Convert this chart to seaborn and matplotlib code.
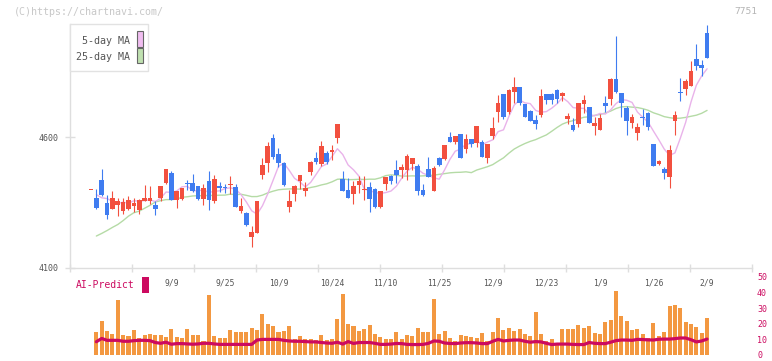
import numpy as np
import pandas as pd
import matplotlib
matplotlib.use("Agg")
import matplotlib.pyplot as plt
from matplotlib.patches import Rectangle
import seaborn as sns

# ---------------- data ----------------
opens = [4397, 4367, 4436, 4348, 4325, 4340, 4318, 4325, 4337, 4321,
         4356, 4356, 4340, 4367, 4424, 4463, 4360, 4363, 4424, 4424,
         4413, 4363, 4432, 4356, 4413, 4409, 4417, 4409, 4318, 4310,
         4218, 4234, 4455, 4501, 4596, 4535, 4501, 4333, 4382, 4432,
         4394, 4466, 4520, 4497, 4539, 4543, 4596, 4440, 4398, 4382,
         4417, 4398, 4409, 4402, 4333, 4421, 4451, 4474, 4474, 4474,
         4497, 4489, 4398, 4478, 4394, 4520, 4516, 4600, 4581, 4612,
         4554, 4592, 4577, 4581, 4520, 4604, 4695, 4764, 4695, 4772,
         4791, 4726, 4699, 4665, 4684, 4764, 4764, 4779, 4757, 4669,
         4646, 4650, 4726, 4715, 4642, 4627, 4730, 4745, 4821, 4768,
         4711, 4653, 4615, 4673, 4692, 4573, 4497, 4478, 4447, 4661,
         4772, 4783, 4795, 4898, 4875, 4997]
highs = [4397, 4402, 4478, 4379, 4394, 4367, 4367, 4375, 4367, 4363,
         4417, 4413, 4356, 4413, 4478, 4470, 4394, 4405, 4436, 4459,
         4413, 4421, 4470, 4455, 4428, 4421, 4451, 4421, 4367, 4314,
         4260, 4356, 4520, 4581, 4612, 4558, 4505, 4398, 4417, 4455,
         4428, 4508, 4543, 4585, 4547, 4570, 4650, 4470, 4444, 4432,
         4451, 4451, 4428, 4405, 4394, 4447, 4455, 4512, 4497, 4535,
         4520, 4497, 4421, 4524, 4489, 4524, 4570, 4619, 4604, 4612,
         4612, 4592, 4642, 4589, 4573, 4676, 4760, 4764, 4783, 4829,
         4791, 4726, 4703, 4684, 4783, 4764, 4768, 4783, 4772, 4692,
         4673, 4730, 4760, 4715, 4676, 4688, 4757, 4825, 4986, 4768,
         4718, 4688, 4653, 4707, 4695, 4573, 4512, 4486, 4568, 4699,
         4825, 4821, 4890, 4955, 4894, 5028]
lows = [4397, 4325, 4375, 4287, 4325, 4299, 4306, 4321, 4314, 4306,
        4356, 4344, 4302, 4356, 4421, 4360, 4329, 4360, 4398, 4390,
        4360, 4340, 4321, 4348, 4390, 4386, 4382, 4333, 4310, 4260,
        4180, 4234, 4440, 4466, 4516, 4486, 4413, 4314, 4356, 4402,
        4375, 4455, 4497, 4489, 4497, 4512, 4577, 4394, 4367, 4344,
        4386, 4360, 4314, 4329, 4329, 4398, 4421, 4424, 4444, 4436,
        4474, 4379, 4375, 4447, 4394, 4489, 4512, 4581, 4573, 4520,
        4539, 4562, 4562, 4524, 4501, 4592, 4657, 4669, 4688, 4730,
        4722, 4676, 4661, 4631, 4676, 4726, 4726, 4730, 4737, 4650,
        4623, 4638, 4692, 4653, 4608, 4627, 4695, 4722, 4768, 4676,
        4608, 4634, 4589, 4646, 4627, 4489, 4493, 4440, 4405, 4608,
        4737, 4760, 4795, 4856, 4833, 4902]
closes = [4397, 4329, 4379, 4302, 4367, 4356, 4352, 4360, 4348, 4360,
          4367, 4367, 4325, 4413, 4478, 4360, 4394, 4405, 4421, 4394,
          4363, 4405, 4360, 4440, 4405, 4405, 4421, 4333, 4337, 4264,
          4237, 4356, 4493, 4566, 4524, 4501, 4417, 4356, 4413, 4455,
          4405, 4505, 4505, 4566, 4505, 4550, 4650, 4394, 4367, 4413,
          4432, 4402, 4363, 4333, 4394, 4447, 4432, 4455, 4486, 4528,
          4520, 4394, 4379, 4447, 4482, 4493, 4570, 4581, 4604, 4520,
          4592, 4573, 4642, 4524, 4573, 4634, 4730, 4676, 4779, 4791,
          4730, 4676, 4661, 4650, 4757, 4741, 4741, 4745, 4768, 4680,
          4627, 4730, 4741, 4653, 4653, 4673, 4718, 4821, 4772, 4730,
          4661, 4676, 4638, 4671, 4638, 4489, 4510, 4463, 4550, 4684,
          4767, 4814, 4852, 4871, 4863, 4902]
volume = [np.nan, 14.6, 21.5, 15.3, 13.4, 35.3, 12.7, 12.1, 15.9, 10.9,
          12.7, 13.4, 12.7, 12.7, 11.5, 16.5, 11.5, 10.9, 16.5, 12.7,
          12.7, 9.0, 38.5, 12.1, 10.9, 10.9, 15.9, 14.6, 14.6, 14.6,
          17.1, 15.9, 26.6, 19.6, 18.4, 14.6, 15.3, 18.4, 10.2, 12.1,
          10.2, 10.2, 9.6, 12.7, 9.6, 10.2, 22.8, 39.1, 19.6, 18.4,
          15.3, 16.5, 19.0, 13.4, 11.5, 10.2, 10.2, 14.6, 10.2, 12.7,
          12.1, 17.1, 14.6, 14.6, 36.0, 13.4, 15.3, 10.9, 9.0, 12.7,
          12.1, 11.5, 10.9, 14.0, 9.0, 14.6, 24.0, 15.9, 17.1, 15.3,
          16.5, 13.4, 12.1, 27.8, 13.4, 9.0, 10.2, 7.1, 16.5, 16.5,
          16.5, 19.0, 17.1, 18.4, 14.0, 13.4, 20.9, 22.2, 41.0, 24.7,
          21.5, 15.9, 16.5, 13.4, 10.9, 20.3, 12.1, 14.6, 31.6, 32.2,
          30.3, 20.9, 19.6, 17.8, 14.0, 24.0]
ai_predict = [np.nan, 8.5, 10.6, 9.4, 9.4, 9.4, 8.8, 8.8, 9.2, 9.4,
              9.4, 9.2, 8.0, 7.5, 8.2, 6.9, 7.3, 7.3, 7.1, 6.9,
              7.1, 7.5, 7.5, 7.1, 6.8, 6.8, 6.8, 6.8, 6.8, 6.8,
              6.8, 9.6, 10.0, 10.0, 10.0, 10.0, 9.4, 9.0, 8.8, 8.8,
              8.6, 8.4, 8.4, 8.0, 7.7, 7.5, 8.2, 7.0, 8.6, 7.4,
              8.0, 8.0, 8.0, 7.5, 6.8, 6.8, 7.0, 7.4, 7.3, 6.8,
              6.7, 6.7, 6.8, 7.5, 9.0, 8.8, 7.7, 7.4, 7.3, 7.7,
              7.9, 7.9, 7.7, 7.3, 7.3, 8.8, 10.0, 9.0, 9.4, 9.6,
              9.6, 8.8, 8.2, 8.6, 8.4, 7.5, 6.7, 7.0, 7.0, 7.0,
              6.8, 6.7, 6.7, 8.0, 7.5, 7.3, 7.3, 8.2, 9.2, 9.6,
              9.6, 9.4, 10.0, 9.9, 9.7, 9.6, 10.1, 10.2, 10.2, 10.5,
              10.9, 10.9, 9.8, 8.4, 9.0, 10.2]
# moving-average values before enough in-window history exists
ma5_head = [4380, 4368, 4365]
ma25_head = [4222, 4232, 4243, 4255, 4266, 4281, 4298, 4311, 4317, 4328,
             4339, 4352, 4357, 4361, 4361, 4363, 4370, 4372, 4375, 4376,
             4376, 4377, 4377]
date_labels = ["9/9", "9/25", "10/9", "10/24", "11/10", "11/25",
               "12/9", "12/23", "1/9", "1/26", "2/9"]
date_label_index = [15, 25, 35, 45, 55, 65, 75, 85, 95, 105, 115]
price_ticks = [4100, 4600]
ai_ticks = [0, 10, 20, 30, 40, 50]

# ---------------- styling ----------------
RED = "#f2503f"
BLUE = "#3f7cf0"
PINK = "#e9b3ea"
GREEN = "#b5dba6"
ORANGE = "#f39841"
CRIMSON = "#cc0a60"
AXIS_GRAY = "#dedede"
TEXT_GRAY = "#555555"

sns.set_style("white")
plt.rcParams["font.family"] = ["DejaVu Sans Mono", "DejaVu Sans"]

W, H = 772, 361
fig = plt.figure(figsize=(W / 100, H / 100), dpi=100)
fig.patch.set_facecolor("white")


def box(x0, y0, x1, y1):
    return [x0 / W, 1 - y1 / H, (x1 - x0) / W, (y1 - y0) / H]


ax = fig.add_axes(box(70, 24, 752, 268))
ax2 = fig.add_axes(box(70, 277, 752, 355))

n = len(closes)
df = pd.DataFrame({"i": np.arange(n), "open": opens, "high": highs,
                   "low": lows, "close": closes, "vol": volume,
                   "ai": ai_predict})
ma5 = df["close"].rolling(5).mean()
ma5.iloc[1:1 + len(ma5_head)] = ma5_head
ma25 = df["close"].rolling(25).mean()
ma25.iloc[1:1 + len(ma25_head)] = ma25_head
df["ma5"] = ma5
df["ma25"] = ma25

XLIM = (-3.92, 123.39)

# ---------------- main price panel ----------------
up = df["close"] >= df["open"]
colors = np.where(up, RED, BLUE)
sns.lineplot(data=df, x="i", y="ma25", ax=ax, color=GREEN, linewidth=1.0,
             zorder=2, legend=False)
sns.lineplot(data=df, x="i", y="ma5", ax=ax, color=PINK, linewidth=1.0,
             zorder=2, legend=False)
ax.vlines(df["i"], df["low"], df["high"], colors=colors, linewidth=0.8, zorder=3)
body_lo = np.minimum(df["open"], df["close"])
body_h = np.maximum((df["close"] - df["open"]).abs(), 3.5)
ax.bar(df["i"], body_h, bottom=body_lo, width=0.86, color=colors,
       linewidth=0, zorder=4)

ax.set_xlim(XLIM)
ax.set_ylim(4100, 5031.4)
ax.set_xlabel("")
ax.set_ylabel("")
ax.set_facecolor("none")
for s in ["top", "right"]:
    ax.spines[s].set_visible(False)
for s in ["left", "bottom"]:
    ax.spines[s].set_color(AXIS_GRAY)
    ax.spines[s].set_linewidth(1.0)

ax.set_yticks(price_ticks)
ax.set_yticklabels([str(v) for v in price_ticks])
ax.tick_params(axis="y", left=True, direction="inout", length=6.5, width=1,
               color=AXIS_GRAY, labelsize=6, labelcolor=TEXT_GRAY, pad=4.7)

minor_pos = [XLIM[0] + k * (XLIM[1] - XLIM[0]) / 11 for k in range(12)]
ax.set_xticks(date_label_index)
ax.set_xticklabels(date_labels)
ax.set_xticks(minor_pos, minor=True)
ax.tick_params(axis="x", which="minor", bottom=True, direction="inout",
               length=5.8, width=1, color=AXIS_GRAY)
ax.tick_params(axis="x", which="major", bottom=True, length=0,
               labelsize=5.8, labelcolor=TEXT_GRAY, pad=7.5)

# ---------------- bottom AI-Predict panel ----------------
ax2.bar(df["i"], df["vol"], width=0.75, color=ORANGE, linewidth=0, zorder=2)
sns.lineplot(data=df, x="i", y="ai", ax=ax2, color=CRIMSON, linewidth=2.3,
             zorder=3, legend=False)
ax2.set_xlim(XLIM)
ax2.set_ylim(0, 50)
ax2.set_xlabel("")
ax2.set_ylabel("")
ax2.set_facecolor("none")
for s in ax2.spines.values():
    s.set_visible(False)
ax2.set_xticks([])
ax2.yaxis.tick_right()
ax2.set_yticks(ai_ticks)
ax2.set_yticklabels([str(v) for v in ai_ticks])
ax2.tick_params(axis="y", right=True, left=False, length=0, labelsize=6,
                labelcolor=CRIMSON, pad=3.6)


# ---------------- annotations ----------------
def fx(x):
    return x / W


def fy(y):
    return 1 - y / H


fig.text(fx(14), fy(12), "(C)https://chartnavi.com/", ha="left", va="center",
         fontsize=7.2, color="#c8c8c8")
fig.text(fx(757), fy(12), "7751", ha="right", va="center", fontsize=6.8,
         color="#b4b4b4")

# legend box
fig.add_artist(Rectangle((fx(70), fy(71)), 78 / W, 47 / H,
                         transform=fig.transFigure, facecolor="white",
                         edgecolor="#e2e2e2", linewidth=1, zorder=5))
fig.text(fx(130), fy(41), "5-day MA", ha="right", va="center", fontsize=7.2,
         color=TEXT_GRAY, zorder=6)
fig.text(fx(130), fy(57), "25-day MA", ha="right", va="center", fontsize=7.2,
         color=TEXT_GRAY, zorder=6)
fig.add_artist(Rectangle((fx(137), fy(46.5)), 6 / W, 15.5 / H,
                         transform=fig.transFigure, facecolor="#f0bdf0",
                         edgecolor="#666666", linewidth=0.8, zorder=6))
fig.add_artist(Rectangle((fx(137), fy(63.3)), 6 / W, 15 / H,
                         transform=fig.transFigure, facecolor="#bfe0b0",
                         edgecolor="#666666", linewidth=0.8, zorder=6))

# AI-Predict label
fig.text(fx(76), fy(285.5), "AI-Predict", ha="left", va="center", fontsize=7,
         color=CRIMSON)
fig.add_artist(Rectangle((fx(142), fy(293)), 7 / W, 16 / H,
                         transform=fig.transFigure, facecolor=CRIMSON,
                         edgecolor="none"))

fig.savefig("out.png", dpi=100, facecolor="white")
